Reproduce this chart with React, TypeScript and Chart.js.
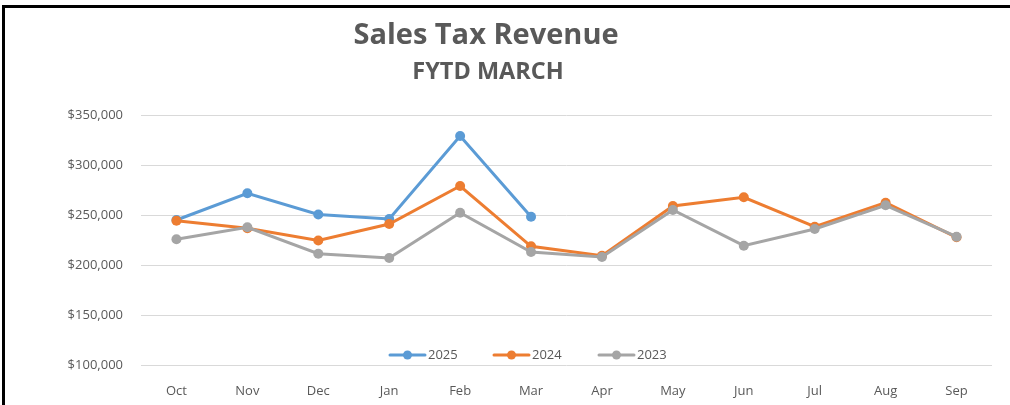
import React, { useEffect, useRef } from 'react';
import { Chart, registerables } from 'chart.js';

Chart.register(...registerables);

const months = ['Oct', 'Nov', 'Dec', 'Jan', 'Feb', 'Mar', 'Apr', 'May', 'Jun', 'Jul', 'Aug', 'Sep'];
const sales2025 = [245000, 271700, 250500, 246000, 329000, 248300, null, null, null, null, null, null];
const sales2024 = [244300, 236700, 224500, 241000, 279000, 218700, 209300, 259000, 267700, 238300, 262300, 227700];
const sales2023 = [225700, 237700, 211300, 207000, 252300, 213000, 208000, 255000, 219300, 236000, 259700, 228300];
const seriesNames = ['2025', '2024', '2023'];
const seriesColors = ['#5B9BD5', '#ED7D31', '#A5A5A5'];
const yMin = 100000;
const yMax = 350000;
const yStep = 50000;
const titleText = 'Sales Tax Revenue';
const subtitleText = 'FYTD MARCH';

const TEXT_COLOR = '#595959';

const titlePlugin = {
  id: 'customTitle',
  afterDraw(chart: any) {
    const ctx = chart.ctx;
    ctx.save();
    ctx.fillStyle = TEXT_COLOR;
    ctx.textAlign = 'center';
    ctx.textBaseline = 'alphabetic';
    ctx.font = 'bold 29px "Open Sans"';
    ctx.fillText(titleText, 486, 44);
    ctx.font = 'bold 23.5px "Open Sans"';
    ctx.fillText(subtitleText, 488, 79);
    ctx.restore();
  },
};

const legendPlugin = {
  id: 'customLegend',
  afterDatasetsDraw(chart: any) {
    const ctx = chart.ctx;
    const y = 355;
    const starts = [390, 494, 599];
    ctx.save();
    ctx.font = '13px "Open Sans"';
    ctx.textBaseline = 'middle';
    ctx.textAlign = 'left';
    chart.data.datasets.forEach((ds: any, i: number) => {
      const x0 = starts[i];
      ctx.strokeStyle = ds.borderColor;
      ctx.lineWidth = 3;
      ctx.lineCap = 'round';
      ctx.beginPath();
      ctx.moveTo(x0, y);
      ctx.lineTo(x0 + 35, y);
      ctx.stroke();
      ctx.fillStyle = ds.borderColor;
      ctx.beginPath();
      ctx.arc(x0 + 17.5, y, 4.5, 0, Math.PI * 2);
      ctx.fill();
      ctx.fillStyle = TEXT_COLOR;
      ctx.fillText(ds.label, x0 + 38, y);
    });
    ctx.restore();
  },
};

export default function App() {
  const canvasRef = useRef<HTMLCanvasElement>(null);

  useEffect(() => {
    document.body.style.margin = '0';
    const canvas = canvasRef.current;
    if (!canvas) return;
    const values = [sales2025, sales2024, sales2023];
    const chart = new Chart(canvas, {
      type: 'line',
      data: {
        labels: months,
        datasets: values.map((vals, i) => ({
          label: seriesNames[i],
          data: vals,
          borderColor: seriesColors[i],
          backgroundColor: seriesColors[i],
          pointBackgroundColor: seriesColors[i],
          pointBorderWidth: 0,
          pointRadius: 5,
          borderWidth: 3,
          tension: 0,
          fill: false,
          order: 2 - i,
        })),
      },
      options: {
        animation: false,
        responsive: false,
        maintainAspectRatio: false,
        layout: { padding: { top: 115, right: 18, bottom: 0, left: 0 } },
        plugins: {
          legend: { display: false },
          title: { display: false },
          tooltip: { enabled: false },
        },
        scales: {
          x: {
            offset: true,
            grid: { display: false },
            border: { display: false },
            ticks: {
              color: TEXT_COLOR,
              font: { family: '"Open Sans"', size: 13 },
              padding: 10,
              maxRotation: 0,
            },
            afterFit(scale: any) {
              scale.height = 40;
            },
          },
          y: {
            min: yMin,
            max: yMax,
            grid: { color: '#D9D9D9', lineWidth: 1, drawTicks: false },
            border: { display: false },
            ticks: {
              stepSize: yStep,
              color: TEXT_COLOR,
              font: { family: '"Open Sans"', size: 13 },
              padding: 18,
              callback: (v: any) => '$' + Number(v).toLocaleString('en-US'),
            },
            afterFit(scale: any) {
              scale.width = 141;
            },
          },
        },
      },
      plugins: [titlePlugin, legendPlugin],
    });
    return () => chart.destroy();
  }, []);

  return (
    <div style={{ position: 'relative', width: 1010, height: 405, background: '#fff', overflow: 'hidden' }}>
      <canvas ref={canvasRef} width={1010} height={405} style={{ display: 'block' }} />
      <div
        style={{
          position: 'absolute',
          left: 2,
          top: 5,
          width: 1010,
          height: 405,
          borderTop: '3px solid #000',
          borderLeft: '3px solid #000',
          pointerEvents: 'none',
        }}
      />
    </div>
  );
}
